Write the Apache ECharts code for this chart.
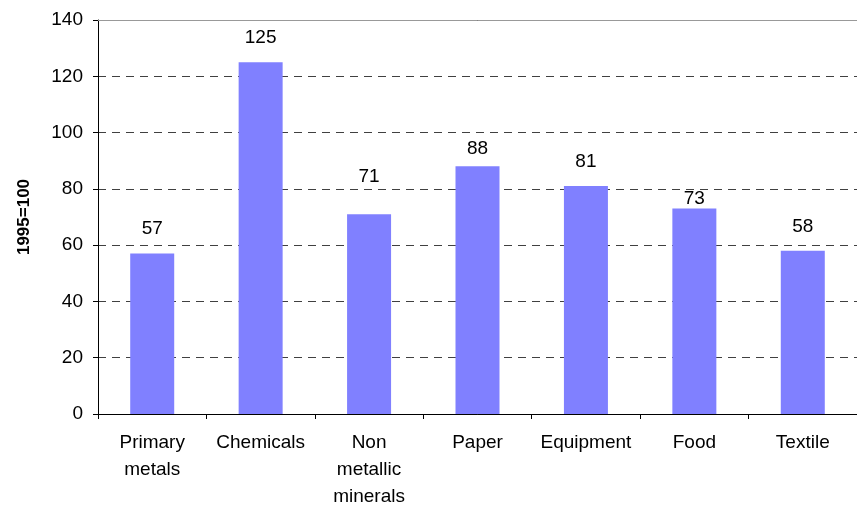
<html>
  <head>
    <meta charset="utf-8" />
    <title>Index 1995=100</title>
    <script src="https://cdn.jsdelivr.net/npm/echarts@6/dist/echarts.min.js"></script>
  </head>
  <body style="margin:0;background:#ffffff">
    <div id="chart" style="width:857px;height:510px"></div>
    <script type="text/javascript">
      var categories = ["Primary\nmetals", "Chemicals", "Non\nmetallic\nminerals", "Paper", "Equipment", "Food", "Textile"];
      var values = [57, 125, 71, 88, 81, 73, 58];
      var yTicks = [0, 20, 40, 60, 80, 100, 120, 140];

      var chart = echarts.init(document.getElementById("chart"));
      var font = "'Liberation Sans', Arial, sans-serif";

      // labels in the original sit at slightly different heights above the bars
      var labelNudge = [0, 0, -13, 7, 0, 15, 0];
      var barData = values.map(function(v, i) {
        return { value: v, label: { offset: [0, labelNudge[i]] } };
      });

      chart.setOption({
        animation: false,
        grid: { left: 98, top: 20, width: 765, height: 395, containLabel: false },
        xAxis: [
          {
            type: "category",
            data: categories,
            axisLine: { lineStyle: { color: "#000000", width: 1 } },
            axisTick: { show: true, length: 5, alignWithLabel: false, lineStyle: { color: "#000000" } },
            axisLabel: { color: "#000000", fontSize: 19, fontFamily: font, lineHeight: 27, margin: 15, interval: 0 }
          },
          {
            // top frame line at 140
            type: "category",
            data: categories,
            position: "top",
            axisLine: { lineStyle: { color: "#999999", width: 1 } },
            axisTick: { show: false },
            axisLabel: { show: false }
          }
        ],
        yAxis: {
          type: "value",
          min: yTicks[0],
          max: yTicks[yTicks.length - 1],
          interval: 20,
          name: "1995=100",
          nameLocation: "middle",
          nameGap: 65,
          nameTextStyle: { color: "#000000", fontSize: 17, fontWeight: "bold", fontFamily: font },
          axisLine: { show: true, lineStyle: { color: "#000000", width: 1 } },
          axisTick: { show: true, length: 5, lineStyle: { color: "#000000" } },
          axisLabel: { color: "#000000", fontSize: 19, fontFamily: font, margin: 15 },
          splitLine: {
            show: true,
            lineStyle: { color: "#000000", type: [8, 6], width: 1, opacity: 0.75 }
          }
        },
        series: [
          {
            type: "bar",
            data: barData,
            barWidth: 44,
            itemStyle: { color: "#8080ff" },
            label: {
              show: true,
              position: "top",
              distance: 15,
              color: "#000000",
              fontSize: 19,
              fontFamily: font
            }
          }
        ]
      });
    </script>
  </body>
</html>
